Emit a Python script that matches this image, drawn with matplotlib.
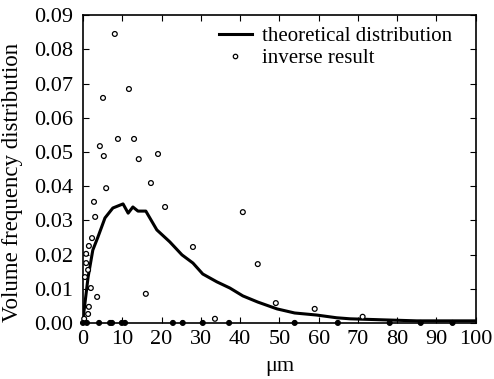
import numpy as np
import matplotlib
matplotlib.use('Agg')
import matplotlib.pyplot as plt

# theoretical distribution (solid line)
theo_x = [0.0, 1.3, 2.5, 3.8, 5.6, 7.6, 8.9, 10.2, 11.5, 12.7, 14.0, 16.0,
          18.8, 22.1, 25.2, 28.0, 30.5, 34.1, 37.4, 40.7, 44.5, 49.4, 53.9,
          59.5, 64.6, 68.0, 76.3, 85.0, 100.0]
theo_y = [0.001, 0.0134, 0.0213, 0.0251, 0.0307, 0.0336, 0.0342, 0.0348,
          0.0321, 0.0339, 0.0327, 0.0327, 0.0272, 0.0237, 0.0199, 0.0175,
          0.0143, 0.0120, 0.0102, 0.0079, 0.0061, 0.0041, 0.0029, 0.0023,
          0.0015, 0.0012, 0.0009, 0.0006, 0.0006]

# inverse result (circles)
inv_x = [8.1, 11.7, 5.1, 4.3, 8.9, 13.0, 5.3, 14.2, 19.1, 5.9, 17.3, 20.9,
         2.8, 3.1, 2.3, 1.5, 0.8, 0.8, 0.5, 1.3, 2.0, 3.6, 1.5, 1.3, 16.0,
         28.0, 40.7, 44.5, 49.1, 59.0, 71.2, 33.6, 0.3,
         0.0, 1.0, 4.1, 6.9, 7.4, 9.9, 10.7, 22.9, 25.4, 30.5, 37.2, 53.9,
         64.9, 78.1, 86.0, 94.1]
inv_y = [0.0845, 0.0684, 0.0658, 0.0517, 0.0538, 0.0538, 0.0488, 0.0479,
         0.0494, 0.0394, 0.0409, 0.0339, 0.0354, 0.0310, 0.0248, 0.0225,
         0.0202, 0.0175, 0.0134, 0.0155, 0.0102, 0.0076, 0.0047, 0.0026,
         0.0085, 0.0222, 0.0324, 0.0172, 0.0058, 0.0041, 0.0018, 0.0012,
         0.0012,
         0, 0, 0, 0, 0, 0, 0, 0, 0, 0, 0, 0, 0, 0, 0, 0]

xticks = np.arange(0, 101, 10)
yticks = np.arange(0, 0.091, 0.01)

plt.rcParams['font.family'] = ['Liberation Serif', 'DejaVu Serif']

fig = plt.figure(figsize=(4.94, 3.79), dpi=100)
ax = fig.add_axes([0.168, 0.148, 0.795, 0.812])

ax.plot(theo_x, theo_y, color='black', lw=2.2, label='theoretical distribution')

face = ['black' if v == 0 else 'white' for v in inv_y]
ax.scatter(inv_x, inv_y, s=12, facecolors=face, edgecolors='black',
           linewidths=0.9, zorder=3, clip_on=False)
# legend proxy for the circles
ax.plot([], [], ls='none', marker='o', ms=3.2, mfc='white', mec='black',
        mew=0.9, label='inverse result')

ax.set_xlim(0, 100)
ax.set_ylim(0, 0.09)
ax.set_xticks(xticks)
ax.set_yticks(yticks)
ax.set_yticklabels(['%.2f' % v for v in yticks])
ax.tick_params(direction='in', top=True, right=True, length=4,
               labelsize=16)
ax.tick_params(axis='y', pad=7)
ax.tick_params(axis='x', pad=5)
for s in ax.spines.values():
    s.set_linewidth(1.2)

ax.set_xlabel('\u03bcm', fontsize=16)
ax.xaxis.set_label_coords(0.5, -0.112)
ax.set_ylabel('Volume frequency distribution', fontsize=16.5)
ax.yaxis.set_label_coords(-0.152, 0.455)

ax.legend(loc='upper right', frameon=False, fontsize=15, handlelength=1.6,
          handletextpad=0.5, borderaxespad=0.0, labelspacing=0.1,
          bbox_to_anchor=(0.962, 0.99))

fig.savefig('out.png', dpi=100)
